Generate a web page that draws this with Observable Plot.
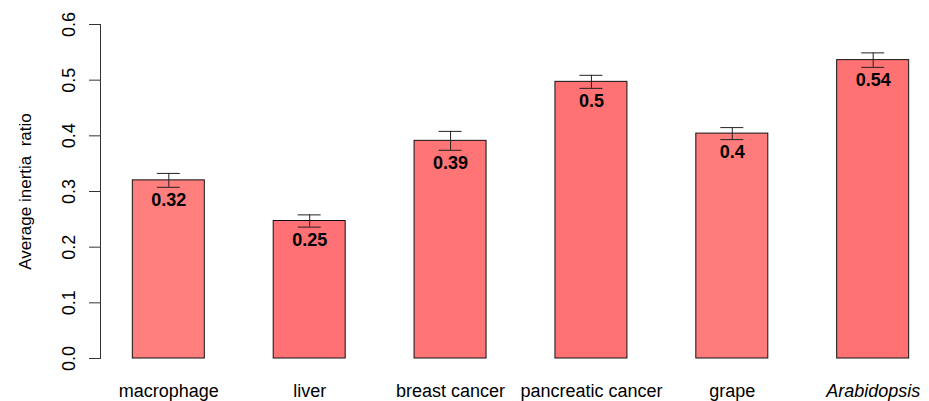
<!DOCTYPE html>
<html>
<head>
<meta charset="utf-8">
<script src="https://cdn.jsdelivr.net/npm/d3@7"></script>
<script src="https://cdn.jsdelivr.net/npm/@observablehq/plot@0.6"></script>
<style>
  html, body { margin: 0; padding: 0; background: #fff; }
  svg text { white-space: pre; }
</style>
</head>
<body>
<div id="chart"></div>
<script>
const categories = ["macrophage", "liver", "breast cancer", "pancreatic cancer", "grape", "Arabidopsis"];
const italicCategories = ["Arabidopsis"];
const means = [0.320, 0.247, 0.391, 0.497, 0.404, 0.536];
const errors = [0.0125, 0.011, 0.017, 0.0117, 0.0108, 0.013];
const fills = ["#fe7f7e", "#ff7174", "#ff7475", "#ff7274", "#fe7c7b", "#ff7274"];
const yTicks = [0, 0.1, 0.2, 0.3, 0.4, 0.5, 0.6];
const yTickLabels = ["0.0", "0.1", "0.2", "0.3", "0.4", "0.5", "0.6"];
const yLabel = "Average inertia  ratio";

const data = categories.map((c, i) => ({
  cat: c,
  mean: means[i],
  lo: means[i] - errors[i],
  hi: means[i] + errors[i],
  fill: fills[i],
  label: String(Math.round(means[i] * 100) / 100)
}));
const tickData = yTicks.map((v, i) => ({v, t: yTickLabels[i]}));
const font = "'Liberation Sans', Arial, Helvetica, sans-serif";

const chart = Plot.plot({
  width: 929,
  height: 401,
  marginLeft: 100,
  marginRight: 0,
  marginTop: 24,
  marginBottom: 43,
  style: {fontFamily: font, background: "#fff"},
  x: {type: "band", domain: categories, range: [112.6, 928.4], paddingInner: 0.489, paddingOuter: 0.14, round: false, axis: null},
  y: {domain: [0, 0.6], axis: null},
  color: {type: "identity"},
  marks: [
    Plot.barY(data, {x: "cat", y: "mean", fill: "fill", stroke: "#111", strokeWidth: 1}),
    Plot.ruleX(data, {x: "cat", y1: "lo", y2: "hi", stroke: "#222", strokeWidth: 1}),
    Plot.tickY(data, {x: "cat", y: "hi", stroke: "#222", strokeWidth: 1, insetLeft: 24.5, insetRight: 24.5}),
    Plot.tickY(data, {x: "cat", y: "lo", stroke: "#222", strokeWidth: 1, insetLeft: 24.5, insetRight: 24.5}),
    Plot.text(data, {x: "cat", y: "lo", text: "label", dy: 13, fontSize: 18, fontWeight: "bold", fill: "#000"}),
    Plot.frame({anchor: "left", stroke: "#333"}),
    Plot.axisY({ticks: yTicks, tickSize: 11, tickFormat: () => "", stroke: "#333"}),
    Plot.text(tickData, {y: "v", text: "t", frameAnchor: "left", textAnchor: "middle", lineAnchor: "middle", dx: -31, rotate: -90, fontSize: 18, fill: "#000"}),
    Plot.text([0.3], {y: d => d, text: () => yLabel, frameAnchor: "left", textAnchor: "middle", lineAnchor: "middle", dx: -75, rotate: -90, fontSize: 17, fill: "#000"}),
    Plot.text(data, {filter: d => !italicCategories.includes(d.cat), x: "cat", text: "cat", frameAnchor: "bottom", textAnchor: "middle", lineAnchor: "middle", dy: 32.7, fontSize: 18, fill: "#000"}),
    Plot.text(data, {filter: d => italicCategories.includes(d.cat), x: "cat", text: "cat", frameAnchor: "bottom", textAnchor: "middle", lineAnchor: "middle", dy: 32.7, fontSize: 18, fontStyle: "italic", fill: "#000"})
  ]
});
document.getElementById("chart").appendChild(chart);
</script>
</body>
</html>
